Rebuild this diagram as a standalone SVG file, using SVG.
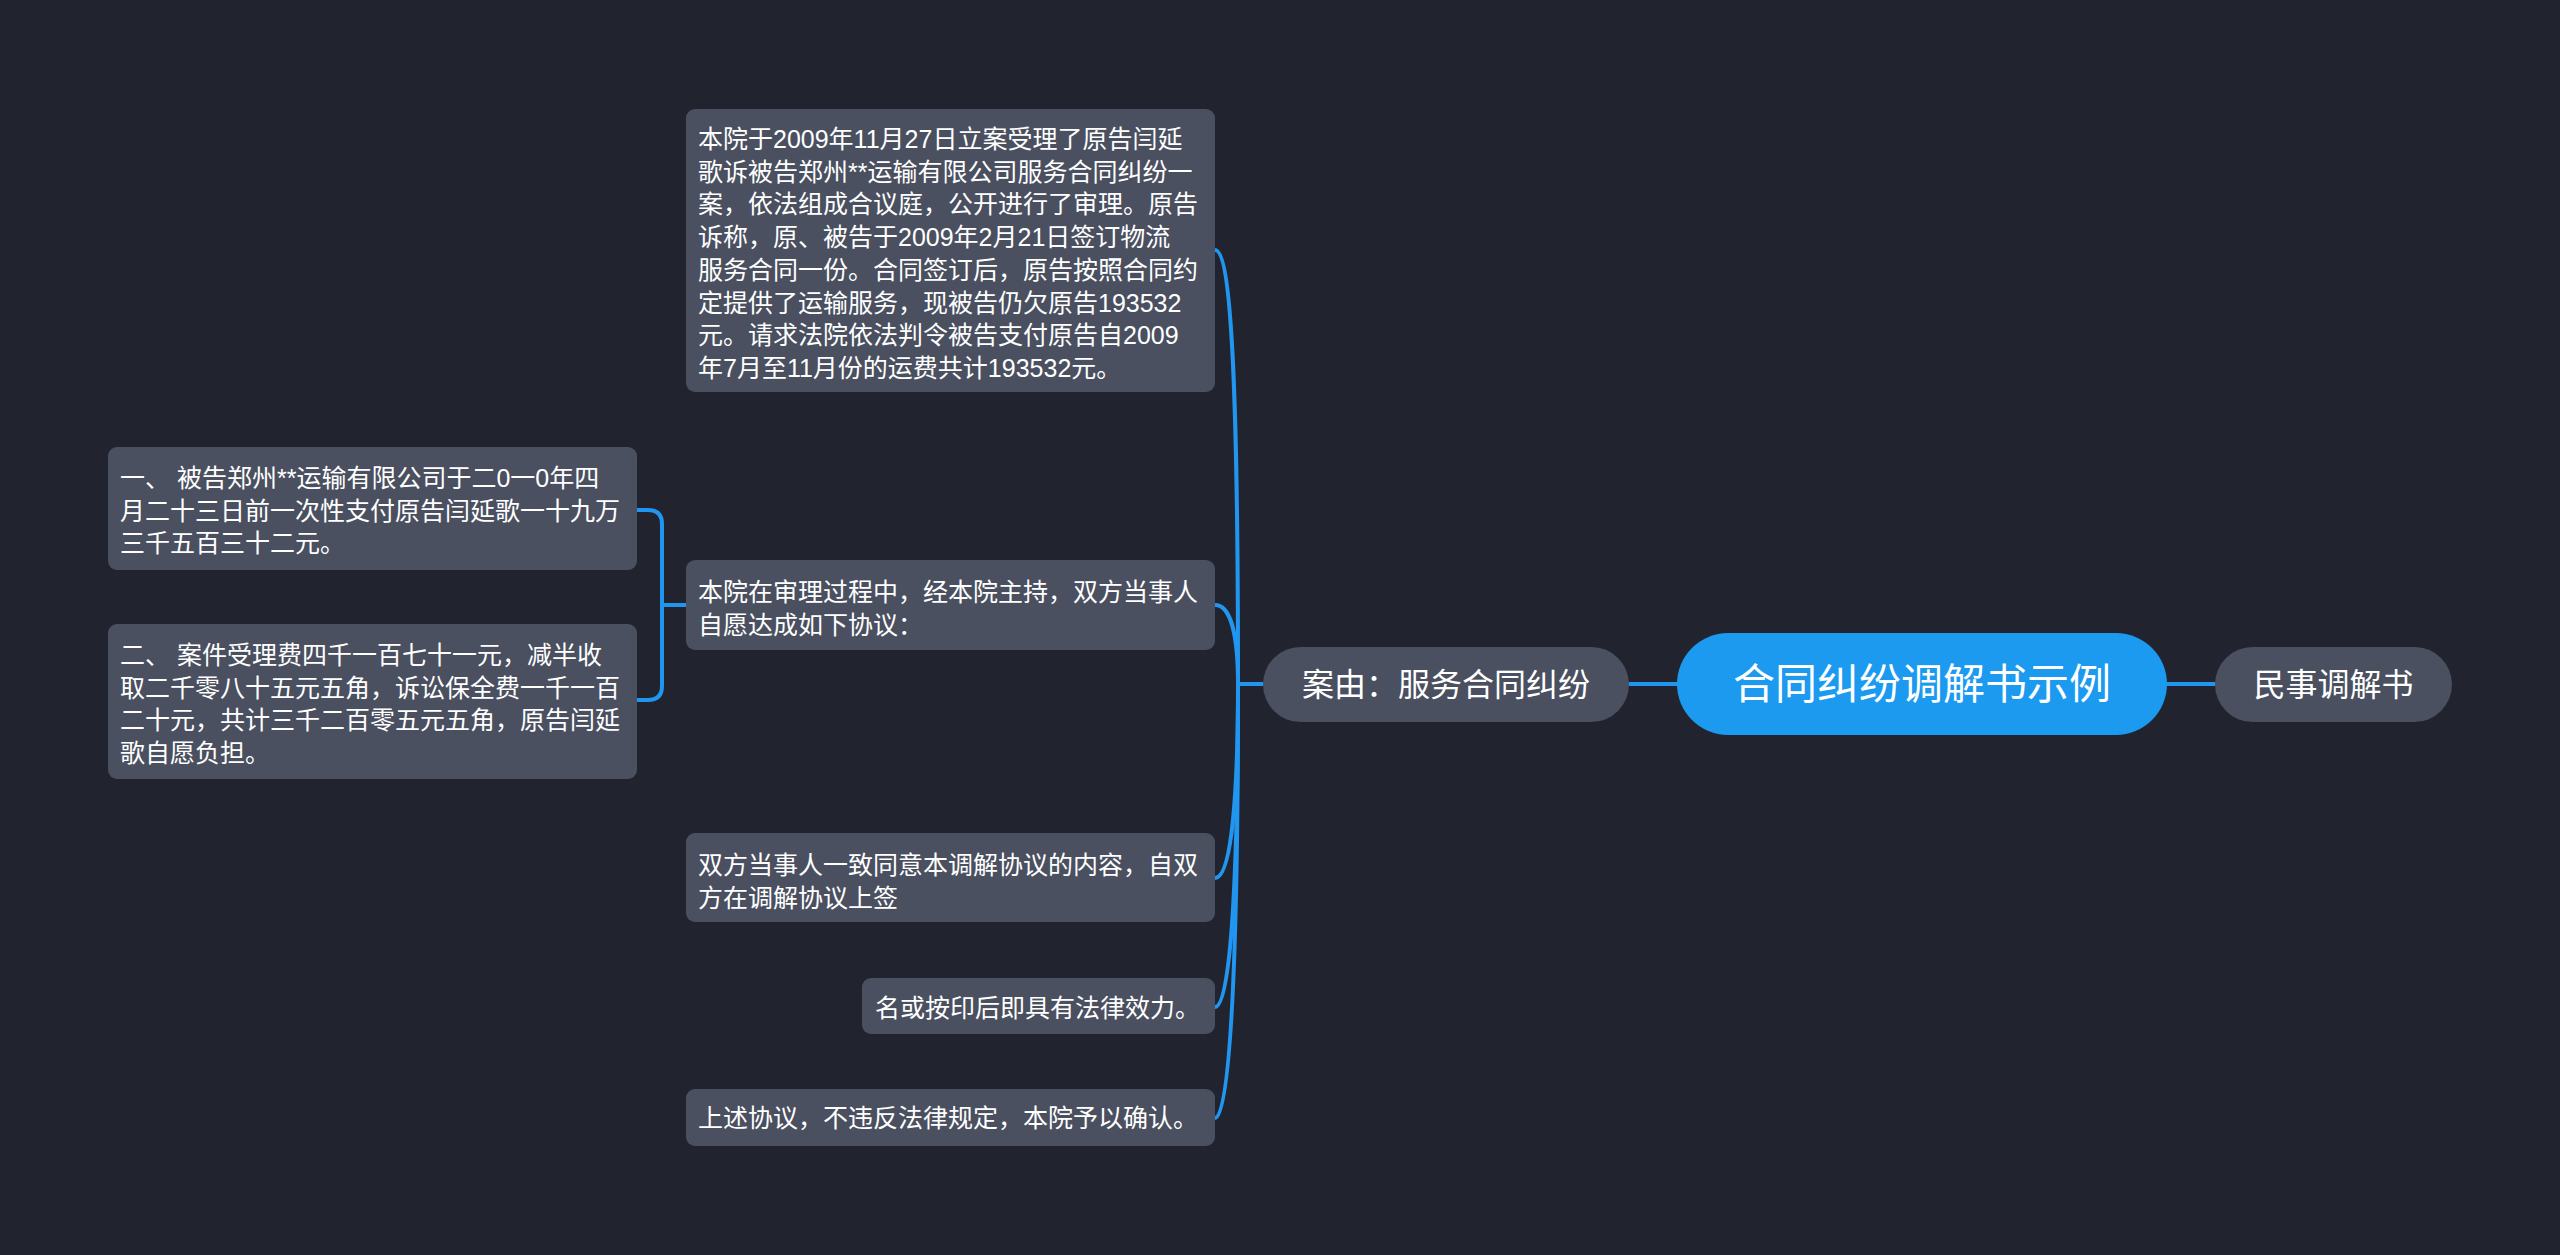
<svg xmlns="http://www.w3.org/2000/svg" width="2560" height="1255" viewBox="0 0 2560 1255">
<style>
.bg{fill:#21242f}
.box{fill:#4a5060}
.root{fill:#1c9af0}
.t{font-family:'Liberation Sans','Noto Sans CJK SC',sans-serif;fill:#ffffff;font-size:25px}
.t1{font-family:'Liberation Sans','Noto Sans CJK SC',sans-serif;fill:#ffffff;font-size:32px;text-anchor:middle}
.t0{font-family:'Liberation Sans','Noto Sans CJK SC',sans-serif;fill:#ffffff;font-size:42px;text-anchor:middle}
.c{fill:none;stroke:#2196f0;stroke-width:4;stroke-linecap:round}
</style>
<rect class="bg" x="0" y="0" width="2560" height="1255"/>
<g id="connectors">
  <path class="c" d="M1629,684 H1677"/>
  <path class="c" d="M2167,684 H2215"/>
  <path class="c" d="M1238,684 H1263"/>
  <path class="c" d="M1215,250 C1233,250 1238,420 1238,684"/>
  <path class="c" d="M1215,605 C1232,605 1238,640 1238,684"/>
  <path class="c" d="M1215,878 C1233,878 1238,780 1238,684"/>
  <path class="c" d="M1215,1007 C1233,1007 1238,840 1238,684"/>
  <path class="c" d="M1215,1118 C1233,1118 1238,900 1238,684"/>
  <path class="c" d="M686,605 H662"/>
  <path class="c" d="M637,510 H648 Q662,510 662,524 V686 Q662,700 648,700 H637"/>
</g>
<g id="root">
  <rect class="root" x="1677" y="633" width="490" height="102" rx="51"/>
  <text class="t0" x="1922" y="699">合同纠纷调解书示例</text>
</g>
<g id="n-anyou">
  <rect class="box" x="1263" y="647" width="366" height="75" rx="37.5"/>
  <text class="t1" x="1446" y="696">案由：服务合同纠纷</text>
</g>
<g id="n-minshi">
  <rect class="box" x="2215" y="647" width="237" height="75" rx="37.5"/>
  <text class="t1" x="2333.5" y="696">民事调解书</text>
</g>
<g id="n-case">
  <rect class="box" x="686" y="109" width="529" height="283" rx="9"/>
  <text class="t">
    <tspan x="698" y="148">本院于2009年11月27日立案受理了原告闫延</tspan>
    <tspan x="698" y="180.7">歌诉被告郑州**运输有限公司服务合同纠纷一</tspan>
    <tspan x="698" y="213.4">案，依法组成合议庭，公开进行了审理。原告</tspan>
    <tspan x="698" y="246.1">诉称，原、被告于2009年2月21日签订物流</tspan>
    <tspan x="698" y="278.8">服务合同一份。合同签订后，原告按照合同约</tspan>
    <tspan x="698" y="311.5">定提供了运输服务，现被告仍欠原告193532</tspan>
    <tspan x="698" y="344.2">元。请求法院依法判令被告支付原告自2009</tspan>
    <tspan x="698" y="376.9">年7月至11月份的运费共计193532元。</tspan>
  </text>
</g>
<g id="n-agree">
  <rect class="box" x="686" y="560" width="529" height="90" rx="9"/>
  <text class="t">
    <tspan x="698" y="601">本院在审理过程中，经本院主持，双方当事人</tspan>
    <tspan x="698" y="633.7">自愿达成如下协议：</tspan>
  </text>
</g>
<g id="n-item1">
  <rect class="box" x="108" y="447" width="529" height="123" rx="9"/>
  <text class="t">
    <tspan x="120" y="487">一、 被告郑州**运输有限公司于二0一0年四</tspan>
    <tspan x="120" y="519.7">月二十三日前一次性支付原告闫延歌一十九万</tspan>
    <tspan x="120" y="552.4">三千五百三十二元。</tspan>
  </text>
</g>
<g id="n-item2">
  <rect class="box" x="108" y="624" width="529" height="155" rx="9"/>
  <text class="t">
    <tspan x="120" y="664">二、 案件受理费四千一百七十一元，减半收</tspan>
    <tspan x="120" y="696.7">取二千零八十五元五角，诉讼保全费一千一百</tspan>
    <tspan x="120" y="729.4">二十元，共计三千二百零五元五角，原告闫延</tspan>
    <tspan x="120" y="762.1">歌自愿负担。</tspan>
  </text>
</g>
<g id="n-consent">
  <rect class="box" x="686" y="833" width="529" height="89" rx="9"/>
  <text class="t">
    <tspan x="698" y="874">双方当事人一致同意本调解协议的内容，自双</tspan>
    <tspan x="698" y="906.7">方在调解协议上签</tspan>
  </text>
</g>
<g id="n-effect">
  <rect class="box" x="862" y="978" width="353" height="56" rx="9"/>
  <text class="t" x="875" y="1017">名或按印后即具有法律效力。</text>
</g>
<g id="n-confirm">
  <rect class="box" x="686" y="1089" width="529" height="57" rx="9"/>
  <text class="t" x="698" y="1127">上述协议，不违反法律规定，本院予以确认。</text>
</g>
</svg>
